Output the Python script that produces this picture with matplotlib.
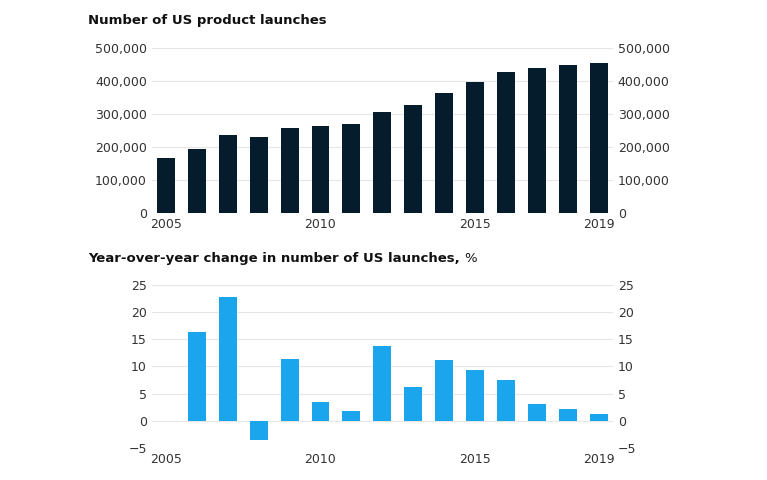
import matplotlib.pyplot as plt
import numpy as np

years = list(range(2005, 2020))
launches = [168000, 195000, 238000, 230000, 257000, 265000, 270000, 307000,
            327000, 363000, 397000, 428000, 440000, 450000, 455000]
yoy_years = list(range(2006, 2020))
yoy_change = [16.3, 22.8, -3.5, 11.3, 3.5, 1.8, 13.8, 6.3, 11.2, 9.4, 7.5, 3.0, 2.2, 1.2]
xticks = [2005, 2010, 2015, 2019]

fig = plt.figure(figsize=(7.67, 4.8), dpi=100)
ax1 = fig.add_axes([0.198, 0.556, 0.601, 0.344])
ax2 = fig.add_axes([0.198, 0.067, 0.601, 0.339])

def style(ax):
    for s in ax.spines.values():
        s.set_visible(False)
    ax.grid(axis='y', color='#e6e6e6', linewidth=0.8)
    ax.set_axisbelow(True)
    ax.tick_params(length=0, labelsize=9, colors='#333333', labelright=True)
    ax.set_xticks(xticks)
    ax.set_xlim(2004.55, 2019.45)

ax1.bar(years, launches, width=0.58, color='#051c2c')
style(ax1)
ax1.set_ylim(0, 500000)
ax1.set_yticks(np.arange(0, 500001, 100000))
ax1.yaxis.set_major_formatter(plt.FuncFormatter(lambda v, p: f'{int(v):,}'))

ax2.bar(yoy_years, yoy_change, width=0.58, color='#1aa5ec')
style(ax2)
ax2.set_ylim(-5, 25)
ax2.set_yticks(range(-5, 26, 5))
ax2.yaxis.set_major_formatter(plt.FuncFormatter(lambda v, p: f'{int(v)}'.replace('-', '\u2212')))

fig.text(0.115, 0.95, 'Number of US product launches', fontsize=9.5, fontweight='bold', color='#111111')
t = fig.text(0.115, 0.455, 'Year-over-year change in number of US launches,', fontsize=9.5,
             fontweight='bold', color='#111111')
fig.text(0, 0, '', fontsize=9.5)
ax2.annotate('%', xy=(1, 0), xycoords=t, xytext=(3, 0), textcoords='offset points',
             fontsize=9.5, color='#111111', va='bottom', annotation_clip=False)

fig.savefig('out.png', dpi=100)
